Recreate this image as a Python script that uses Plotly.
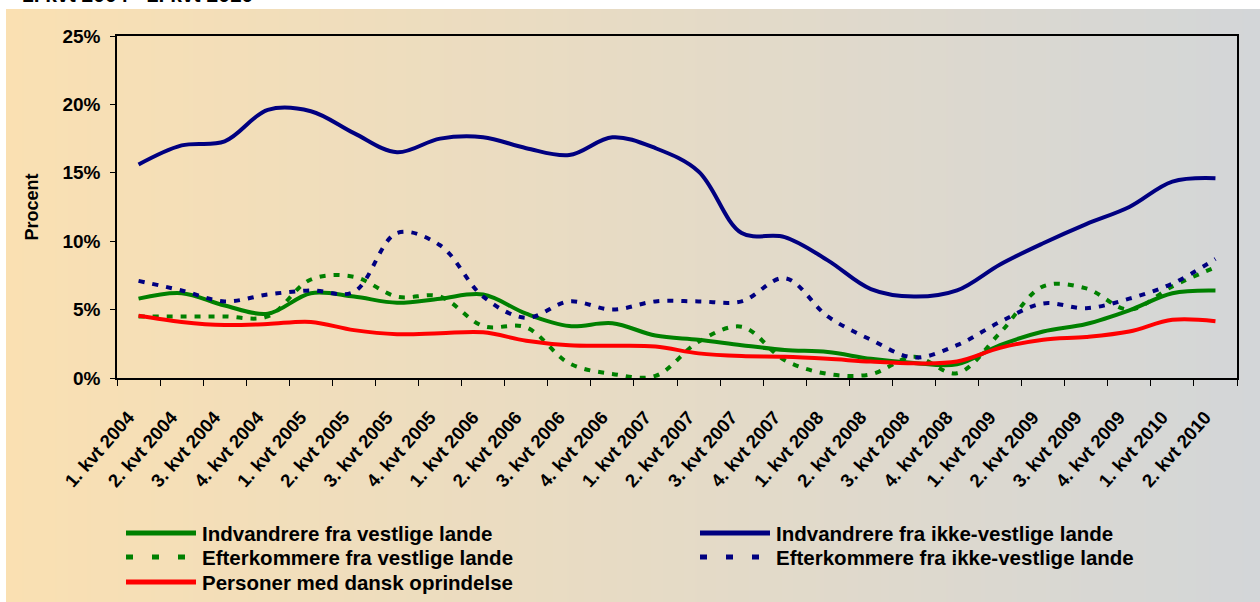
import base64, struct, zlib
import plotly.graph_objects as go

# ---------------- data ----------------
categories = ["1. kvt 2004", "2. kvt 2004", "3. kvt 2004", "4. kvt 2004",
              "1. kvt 2005", "2. kvt 2005", "3. kvt 2005", "4. kvt 2005",
              "1. kvt 2006", "2. kvt 2006", "3. kvt 2006", "4. kvt 2006",
              "1. kvt 2007", "2. kvt 2007", "3. kvt 2007", "4. kvt 2007",
              "1. kvt 2008", "2. kvt 2008", "3. kvt 2008", "4. kvt 2008",
              "1. kvt 2009", "2. kvt 2009", "3. kvt 2009", "4. kvt 2009",
              "1. kvt 2010", "2. kvt 2010"]

indv_vestlige = [5.8, 6.2, 5.3, 4.7, 6.2, 5.95, 5.5, 5.8, 6.1, 4.7, 3.8, 4.0, 3.1,
                 2.8, 2.4, 2.05, 1.9, 1.4, 1.1, 1.0, 2.4, 3.4, 3.95, 4.95, 6.2, 6.4]
efter_vestlige = [4.5, 4.5, 4.5, 4.5, 7.2, 7.4, 5.95, 5.95, 3.8, 3.7, 1.07, 0.3, 0.15,
                  2.65, 3.75, 1.3, 0.3, 0.27, 1.55, 0.35, 3.3, 6.7, 6.55, 5.0, 6.7, 8.1]
dansk = [4.55, 4.1, 3.87, 3.95, 4.1, 3.5, 3.2, 3.27, 3.34, 2.73, 2.4, 2.36, 2.3,
         1.8, 1.6, 1.55, 1.4, 1.2, 1.07, 1.2, 2.2, 2.8, 3.0, 3.4, 4.25, 4.15]
indv_ikke_vestlige = [15.6, 17.0, 17.3, 19.6, 19.5, 17.9, 16.5, 17.5, 17.6, 16.8, 16.3,
                      17.6, 16.8, 15.1, 10.6, 10.3, 8.6, 6.5, 5.95, 6.4, 8.3, 9.85,
                      11.25, 12.5, 14.35, 14.6]
efter_ikke_vestlige = [7.1, 6.4, 5.6, 6.1, 6.4, 6.3, 10.6, 9.7, 5.95, 4.4, 5.6, 5.0,
                       5.6, 5.6, 5.6, 7.3, 4.5, 2.8, 1.5, 2.4, 4.1, 5.45, 5.1, 5.8,
                       6.9, 8.7]

series_names = ["Indvandrere fra vestlige lande", "Efterkommere fra vestlige lande",
                "Personer med dansk oprindelse", "Indvandrere fra ikke-vestlige lande",
                "Efterkommere fra ikke-vestlige lande"]
series_values = [indv_vestlige, efter_vestlige, dansk, indv_ikke_vestlige, efter_ikke_vestlige]
series_colors = ["#008000", "#008000", "#FF0000", "#000080", "#000080"]
series_dashed = [False, True, False, False, True]

title_text = "1. kvt 2004 - 2. kvt 2010"

# ---------------- layout geometry ----------------
W, H = 1260, 602
ML, MR, MT, MB = 117, 23, 36, 224
PW, PH = W - ML - MR, H - MT - MB
FONT = "Liberation Sans, Arial, sans-serif"


def px2paper_x(X):
    return (X - ML) / PW


def px2paper_y(Y):
    return 1 - (Y - MT) / PH


# gradient background png
def gradient_png(width, c0, c1):
    line = b"\x00"
    for i in range(width):
        t = i / (width - 1)
        r = round(c0[0] + (c1[0] - c0[0]) * t)
        g = round(c0[1] + (c1[1] - c0[1]) * t)
        b = round(c0[2] + (c1[2] - c0[2]) * t)
        line += bytes([r, g, b])
    rows = line * 2

    def chunk(tag, data):
        c = struct.pack(">I", len(data)) + tag + data
        return c + struct.pack(">I", zlib.crc32(tag + data) & 0xffffffff)

    png = b"\x89PNG\r\n\x1a\n"
    png += chunk(b"IHDR", struct.pack(">IIBBBBB", width, 2, 8, 2, 0, 0, 0))
    png += chunk(b"IDAT", zlib.compress(rows))
    png += chunk(b"IEND", b"")
    return "data:image/png;base64," + base64.b64encode(png).decode()


bg = gradient_png(600, (250, 224, 178), (211, 214, 216))

fig = go.Figure()
for name, vals, col, dashed in zip(series_names, series_values, series_colors, series_dashed):
    fig.add_trace(go.Scatter(
        x=categories, y=vals, name=name, mode="lines",
        line=dict(color=col, width=4, shape="spline", smoothing=1.0,
                  dash="6px,8px" if dashed else "solid"),
        showlegend=False,
    ))

# custom legend (long line samples as in the original)
legend_pos = [(126, 533), (126, 557), (126, 582), (700, 533), (700, 557)]
for (lx, ly), name, col, dashed in zip(legend_pos, series_names, series_colors, series_dashed):
    fig.add_shape(type="line", xref="paper", yref="paper",
                  x0=px2paper_x(lx), x1=px2paper_x(lx + 62 if dashed else lx + 70),
                  y0=px2paper_y(ly), y1=px2paper_y(ly),
                  line=dict(color=col, width=5,
                            dash="7px,19px" if dashed else "solid"))
    fig.add_annotation(xref="paper", yref="paper", x=px2paper_x(lx + 74), y=px2paper_y(ly),
                       xanchor="left", yanchor="middle", showarrow=False, text=name,
                       font=dict(family=FONT, size=20.5, color="black", weight="bold"))

# title, cut off at the very top as in the original
fig.add_annotation(xref="paper", yref="paper", x=px2paper_x(20), y=px2paper_y(-5),
                   xanchor="left", yanchor="middle", showarrow=False, text=title_text,
                   font=dict(family=FONT, size=21, color="black", weight="bold"))

fig.update_layout(
    width=W, height=H,
    margin=dict(l=ML, r=MR, t=MT, b=MB),
    paper_bgcolor="white",
    plot_bgcolor="rgba(0,0,0,0)",
    font=dict(family=FONT, color="black"),
    images=[dict(source=bg, xref="paper", yref="paper",
                 x=px2paper_x(6), y=px2paper_y(9),
                 sizex=(W - 6) / PW, sizey=(H - 9) / PH,
                 xanchor="left", yanchor="top", sizing="stretch", layer="below")],
    xaxis=dict(
        type="category", range=[-0.5, len(categories) - 0.5],
        tickmode="array", tickvals=categories,
        ticktext=[c + "\u00a0\u00a0\u00a0" for c in categories],
        tickson="boundaries", ticks="outside", ticklen=6, tickcolor="black",
        showline=True, linecolor="black", linewidth=1.5, mirror=True,
        showgrid=False, zeroline=False, tickangle=-48.5, ticklabelstandoff=8,
        tickfont=dict(family=FONT, size=18.5, color="black", weight="bold"),
    ),
    yaxis=dict(
        range=[0, 25], dtick=5, ticksuffix="%",
        ticks="outside", ticklen=5, tickcolor="black",
        showline=True, linecolor="black", linewidth=1.5, mirror=True,
        showgrid=False, zeroline=False, ticklabelstandoff=6,
        tickfont=dict(family=FONT, size=19, color="black", weight="bold"),
        title=dict(text="Procent", standoff=19,
                   font=dict(family=FONT, size=18, color="black", weight="bold")),
    ),
)

fig.write_html("out.html", config={"displayModeBar": False},
               post_script="document.body.style.margin='0px';document.body.style.overflow='hidden';")
